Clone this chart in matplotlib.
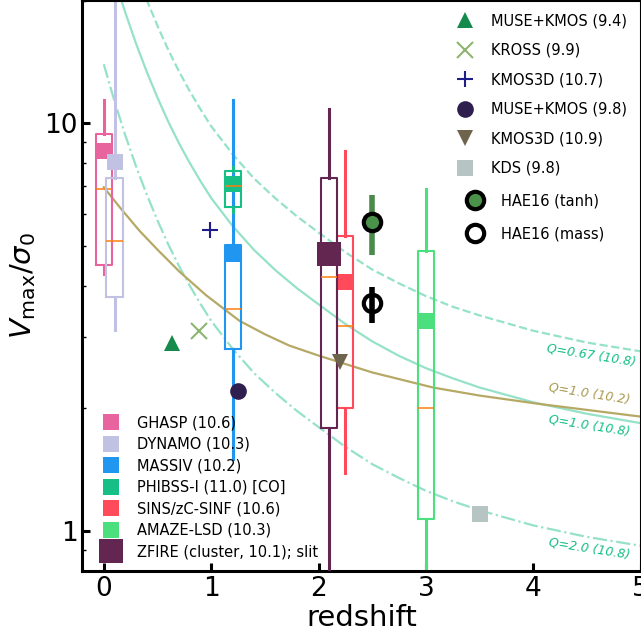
import matplotlib
matplotlib.use('Agg')
import matplotlib.pyplot as plt
from matplotlib.lines import Line2D
from matplotlib.ticker import NullFormatter

# survey box plots (quartiles, whiskers, median, mean marker)
box_names = ['GHASP (10.6)', 'DYNAMO (10.3)', 'MASSIV (10.2)', 'PHIBSS-I (11.0) [CO]',
             'SINS/zC-SINF (10.6)', 'AMAZE-LSD (10.3)', 'ZFIRE (cluster, 10.1); slit']
box_colors = ['#e8649f', '#c1c1e3', '#2196f0', '#15bf86', '#ff4a5c', '#4be07d', '#632650']
box_z = [0.0, 0.1, 1.2, 1.2, 2.25, 3.0, 2.1]
box_whislo = [4.26, 3.11, 1.50, 6.06, 1.39, 0.5, 0.5]
box_q1 = [4.49, 3.75, 2.79, 6.23, 2.00, 1.07, 1.79]
box_med = [6.90, 5.15, 3.50, 7.00, 3.19, 2.00, 4.20]
box_q3 = [9.42, 7.34, 5.02, 7.66, 5.28, 4.86, 7.36]
box_whishi = [11.4, 30.0, 11.4, 7.81, 8.54, 6.91, 10.85]
box_mean = [8.57, 8.03, 4.79, 7.08, 4.08, 3.27, 4.78]
draw_order = [0, 1, 3, 2, 4, 5, 6]

# single points
pt_names = ['MUSE+KMOS (9.4)', 'KROSS (9.9)', 'KMOS3D (10.7)', 'MUSE+KMOS (9.8)', 'KMOS3D (10.9)', 'KDS (9.8)']
pt_z = [0.64, 0.89, 0.99, 1.25, 2.2, 3.5]
pt_v = [2.89, 3.10, 5.49, 2.20, 2.60, 1.10]
pt_markers = ['^', 'x', '+', 'o', 'v', 's']
pt_colors = ['#148a4c', '#8db56f', '#1f1d8a', '#2e1f4f', '#6e634c', '#b7c4c4']

# HAE16
hae_names = ['HAE16 (tanh)', 'HAE16 (mass)']
hae_z = [2.5, 2.5]
hae_v = [5.73, 3.62]
hae_lo = [4.75, 3.23]
hae_hi = [6.66, 3.97]

# model curves
q067_z = [0.3, 0.4, 0.5, 0.6, 0.7, 0.8, 0.9, 1.0, 1.2, 1.4, 1.6, 1.8, 2.0, 2.25, 2.5, 2.75, 3.0, 3.25, 3.5, 4.0, 4.5, 5.0]
q067_v = [23.55, 20.07, 17.34, 15.15, 13.41, 12.0, 10.83, 9.84, 8.40, 7.32, 6.54, 5.91, 5.40, 4.83, 4.38, 4.05, 3.77, 3.55, 3.38, 3.10, 2.90, 2.76]
q10_z = [0.1, 0.2, 0.3, 0.4, 0.5, 0.6, 0.7, 0.8, 0.9, 1.0, 1.2, 1.4, 1.6, 1.8, 2.0, 2.25, 2.5, 2.75, 3.0, 3.25, 3.5, 4.0, 4.5, 5.0]
q10_v = [22.64, 18.70, 15.70, 13.38, 11.56, 10.10, 8.94, 8.00, 7.22, 6.56, 5.60, 4.89, 4.36, 3.94, 3.60, 3.22, 2.92, 2.69, 2.51, 2.37, 2.25, 2.07, 1.94, 1.84]
q20_z = [0.0, 0.1, 0.2, 0.3, 0.4, 0.5, 0.6, 0.7, 0.8, 0.9, 1.0, 1.2, 1.4, 1.6, 1.8, 2.0, 2.25, 2.5, 2.75, 3.0, 3.25, 3.5, 4.0, 4.5, 5.0]
q20_v = [13.96, 11.32, 9.35, 7.85, 6.69, 5.78, 5.05, 4.47, 4.00, 3.61, 3.28, 2.80, 2.44, 2.18, 1.97, 1.80, 1.61, 1.46, 1.35, 1.256, 1.184, 1.125, 1.033, 0.968, 0.921]
q10b_z = [0.0, 0.15, 0.33, 0.5, 0.704, 0.952, 1.263, 1.5, 1.729, 2.009, 2.5, 3.066, 3.5, 4.06, 4.995]
q10b_v = [6.97, 6.22, 5.46, 4.90, 4.33, 3.79, 3.28, 3.04, 2.85, 2.69, 2.45, 2.25, 2.15, 2.05, 1.91]

curve_labels = ['Q=0.67 (10.8)', 'Q=1.0 (10.2)', 'Q=1.0 (10.8)', 'Q=2.0 (10.8)']
label_z = [4.54, 4.52, 4.52, 4.52]
label_v = [2.70, 2.17, 1.82, 0.907]

y_ticks = [1, 10]
y_ticklabels = ['1', '10']
x_ticks = [0, 1, 2, 3, 4, 5]

teal = '#15bf86'
olive = '#b6a965'

fig = plt.figure(figsize=(6.41, 6.36), dpi=100)
ax = fig.add_axes([0.1284, 0.1027, 0.871, 0.8965])
ax.set_yscale('log')

# curves
ax.plot(q067_z, q067_v, '--', color=teal, alpha=0.45, lw=1.6, zorder=1)
ax.plot(q10_z, q10_v, '-', color=teal, alpha=0.45, lw=1.6, zorder=1)
ax.plot(q20_z, q20_v, '-.', color=teal, alpha=0.45, lw=1.6, zorder=1)
ax.plot(q10b_z, q10b_v, '-', color=olive, lw=1.6, zorder=1)
label_colors = [teal, '#a89a50', teal, teal]
for lab, lz, lv, lc in zip(curve_labels, label_z, label_v, label_colors):
    ax.text(lz, lv, lab, color=lc, fontsize=9, style='italic', rotation=-9,
            ha='center', va='center')

# boxes
for i in draw_order:
    c = box_colors[i]
    stats = [dict(med=box_med[i], q1=box_q1[i], q3=box_q3[i],
                  whislo=box_whislo[i], whishi=box_whishi[i])]
    ax.bxp(stats, positions=[box_z[i]], widths=0.15, showfliers=False, showcaps=False,
           manage_ticks=False, zorder=2 + i * 0.1,
           boxprops=dict(color=c, lw=1.5),
           whiskerprops=dict(color=c, lw=2.2),
           medianprops=dict(color='#ff7f0e', lw=1.1))
    ms = 17 if i == 6 else 12
    ax.plot(box_z[i], box_mean[i], 's', ms=ms, color=c, mec=c, mew=0, zorder=2.05 + i * 0.1)

# points
for z, v, m, c in zip(pt_z, pt_v, pt_markers, pt_colors):
    mew = 1.5 if m in ('x', '+') else 0
    ax.plot(z, v, m, ms=12, color=c, mew=mew, zorder=4)

# HAE16
ax.errorbar(hae_z[0], hae_v[0], yerr=[[hae_v[0] - hae_lo[0]], [hae_hi[0] - hae_v[0]]],
            fmt='o', ms=12.5, mfc='#4a924a', mec='k', mew=3, ecolor='#4a8a4a', elinewidth=4,
            capsize=0, zorder=5)
ax.errorbar(hae_z[1], hae_v[1], yerr=[[hae_v[1] - hae_lo[1]], [hae_hi[1] - hae_v[1]]],
            fmt='o', ms=12.5, mfc='none', mec='k', mew=3, ecolor='k', elinewidth=4,
            capsize=0, zorder=5)

ax.set_xlim(-0.2, 5)
ax.set_ylim(0.8, 20)
ax.set_xticks(x_ticks)
ax.set_yticks(y_ticks)
ax.set_yticklabels(y_ticklabels)
ax.yaxis.set_minor_formatter(NullFormatter())
ax.tick_params(which='major', direction='in', length=6, width=2.2, labelsize=19)
ax.tick_params(which='minor', direction='in', length=3, width=1)
for s in ax.spines.values():
    s.set_linewidth(1.5)
ax.spines['left'].set_linewidth(2.2)
ax.spines['bottom'].set_linewidth(2.2)
ax.set_xlabel('redshift', fontsize=21, labelpad=2)
ax.set_ylabel(r'$V_{\rm max}/\sigma_0$', fontsize=21, labelpad=4)

# legends
pt_handles = [Line2D([], [], ls='none', marker=m, ms=12, color=c,
                     mew=(1.5 if m in ('x', '+') else 0))
              for m, c in zip(pt_markers, pt_colors)]
leg1 = ax.legend(pt_handles, pt_names, loc='upper left', bbox_to_anchor=(0.659, 0.978),
                 frameon=False, fontsize=10.5, labelspacing=1.0, borderpad=0,
                 borderaxespad=0, handletextpad=0.8)
ax.add_artist(leg1)

hae_handles = [Line2D([], [], ls='none', marker='o', ms=12.5, mfc='#4a924a', mec='k', mew=3),
               Line2D([], [], ls='none', marker='o', ms=12.5, mfc='white', mec='k', mew=3)]
leg2 = ax.legend(hae_handles, hae_names, loc='upper left', bbox_to_anchor=(0.677, 0.662),
                 frameon=False, fontsize=10.5, labelspacing=1.25, borderpad=0,
                 borderaxespad=0, handletextpad=0.8)
ax.add_artist(leg2)

box_handles = [Line2D([], [], ls='none', marker='s', ms=(17 if i == 6 else 12),
                      color=box_colors[i], mew=0) for i in range(len(box_names))]
ax.legend(box_handles, box_names, loc='lower left', bbox_to_anchor=(0.025, 0.0196),
          frameon=False, fontsize=10.5, labelspacing=0.45, borderpad=0,
          borderaxespad=0, handletextpad=0.8)

fig.savefig('out.png', dpi=100)
